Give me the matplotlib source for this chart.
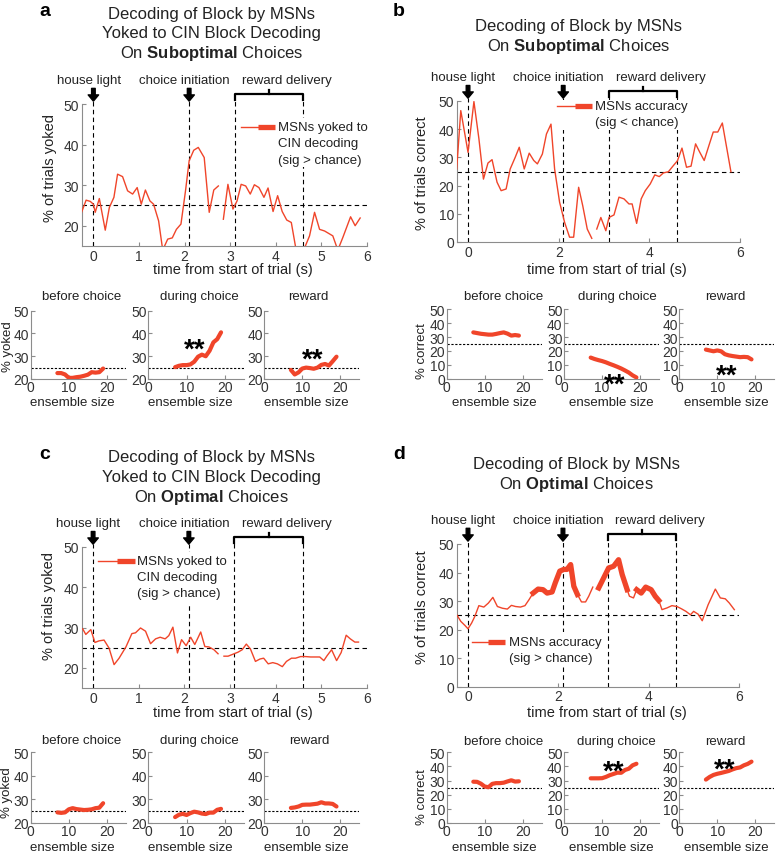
import numpy as np
import matplotlib
matplotlib.use('Agg')
import matplotlib.pyplot as plt
from matplotlib.transforms import blended_transform_factory
from matplotlib.lines import Line2D
from matplotlib.patches import Rectangle

plt.rcParams['font.family'] = ['Liberation Sans', 'DejaVu Sans']
plt.rcParams['mathtext.fontset'] = 'custom'
plt.rcParams['mathtext.rm'] = 'Liberation Sans'
plt.rcParams['mathtext.bf'] = 'Liberation Sans:bold'

nan = np.nan

# ---------------- main traces (time in s, % of trials) ----------------
t_a = [-0.26, -0.16, -0.07, 0.0, 0.04, 0.13, 0.26, 0.35, 0.45, 0.53, 0.64, 0.75, 0.86, 0.96, 1.05,
       1.14, 1.24, 1.32, 1.43, 1.52, 1.63, 1.73, 1.82, 1.92, 2.02, 2.1, 2.2, 2.3, 2.43, 2.54, 2.64,
       2.74, 2.8, 2.85, 2.95, 3.06, 3.15, 3.24, 3.34, 3.44, 3.53, 3.63, 3.74, 3.83, 3.94, 4.04, 4.14,
       4.24, 4.34, 4.43, 4.53, 4.63, 4.74, 4.85, 4.96, 5.07, 5.25, 5.36, 5.47, 5.64, 5.74, 5.85]
pct_a = [23.3, 26.3, 26.0, 25.3, 23.3, 26.7, 18.9, 24.5, 27.0, 32.7, 32.1, 28.6, 27.8, 29.4, 25.3,
         28.8, 26.1, 25.3, 21.2, 14.0, 16.7, 17.0, 19.1, 20.4, 28.6, 36.0, 38.6, 39.3, 36.8, 23.3, 28.8,
         29.8, nan, 21.6, 30.2, 24.1, 26.1, 30.2, 29.8, 27.8, 30.1, 29.4, 27.0, 29.3, 23.5, 27.4, 23.5,
         21.4, 20.8, 15.0, 12.0, 14.5, 17.5, 23.3, 19.1, 18.7, 17.5, 14.0, 17.1, 22.2, 20.0, 21.9]

t_b = [-0.25, -0.16, 0.0, 0.13, 0.24, 0.34, 0.44, 0.53, 0.64, 0.73, 0.84, 0.93, 1.04, 1.13, 1.24,
       1.35, 1.45, 1.53, 1.64, 1.73, 1.83, 1.91, 2.02, 2.13, 2.24, 2.33, 2.44, 2.53, 2.63, 2.73,
       2.78, 2.84, 2.93, 3.04, 3.11, 3.22, 3.33, 3.44, 3.55, 3.62, 3.72, 3.82, 3.91, 4.02, 4.12,
       4.22, 4.31, 4.42, 4.53, 4.62, 4.72, 4.82, 4.92, 5.02, 5.11, 5.21, 5.32, 5.41, 5.51, 5.61, 5.80]
pct_b = [25.9, 46.6, 31.8, 49.8, 36.6, 22.3, 28.0, 29.2, 21.2, 18.2, 18.8, 25.9, 30.0, 33.6, 25.9,
         31.5, 28.9, 27.7, 31.2, 38.3, 41.8, 25.9, 14.1, 7.0, 1.7, 1.7, 19.4, 12.9, 4.6, 1.3,
         nan, 4.6, 8.7, 4.0, 8.7, 9.6, 15.9, 15.3, 13.5, 13.5, 6.6, 15.3, 18.2, 20.6, 23.8,
         23.2, 24.5, 24.9, 27.1, 28.8, 33.3, 26.5, 26.9, 34.8, 31.9, 28.9, 34.5, 39.0, 39.0, 42.2, 24.9]

t_c = [-0.23, -0.16, -0.05, 0.04, 0.13, 0.24, 0.35, 0.46, 0.57, 0.72, 0.85, 0.93, 1.04, 1.15, 1.26,
       1.37, 1.47, 1.58, 1.66, 1.75, 1.85, 1.94, 2.04, 2.14, 2.23, 2.36, 2.45, 2.54, 2.65, 2.74,
       2.8, 2.87, 2.96, 3.07, 3.18, 3.27, 3.36, 3.45, 3.56, 3.66, 3.74, 3.84, 3.94, 4.04, 4.15,
       4.24, 4.35, 4.44, 4.55, 4.66, 4.77, 4.88, 4.97, 5.06, 5.13, 5.23, 5.34, 5.44, 5.55, 5.64, 5.74, 5.82]
pct_c = [29.7, 28.3, 29.5, 26.3, 26.7, 26.9, 24.9, 20.8, 22.4, 25.2, 28.5, 28.7, 29.9, 29.1, 26.0,
         27.2, 27.6, 27.2, 28.0, 30.1, 23.7, 27.0, 25.5, 27.6, 25.8, 28.9, 25.3, 25.2, 24.5, 23.5,
         nan, 22.9, 22.9, 23.4, 23.9, 24.5, 25.9, 24.7, 21.6, 22.2, 22.4, 21.0, 21.3, 21.0, 20.3,
         21.6, 22.4, 22.4, 22.8, 22.8, 22.7, 22.7, 22.7, 21.8, 23.0, 24.5, 21.8, 23.8, 28.1, 27.2, 26.4, 26.4]

t_d = [-0.24, -0.16, -0.07, 0.0, 0.08, 0.15, 0.24, 0.35, 0.45, 0.55, 0.65, 0.76, 0.87, 0.96, 1.05,
       1.16, 1.26, 1.35, 1.44, 1.55, 1.66, 1.75, 1.86, 1.93, 2.03, 2.12, 2.19, 2.27, 2.34, 2.42,
       2.51, 2.6, 2.67, 2.76, 2.82, 2.89, 3.0, 3.11, 3.22, 3.33, 3.41, 3.52, 3.57, 3.66, 3.73,
       3.83, 3.93, 4.05, 4.14, 4.22, 4.29, 4.4, 4.51, 4.62, 4.72, 4.82, 4.92, 4.99, 5.09, 5.18,
       5.31, 5.47, 5.58, 5.69, 5.78, 5.89]
pct_d = [25.0, 22.9, 21.5, 20.3, 22.3, 24.6, 28.4, 27.9, 29.3, 31.3, 28.1, 27.5, 27.2, 28.5, 28.1,
         27.9, 28.4, 30.5, 32.8, 34.2, 34.0, 32.8, 33.2, 36.4, 40.5, 41.1, 41.1, 42.8, 35.2, 32.3,
         29.7, 29.7, 31.7, 34.9, nan, 34.6, 38.1, 41.6, 42.2, 44.5, 39.3, 34.0, 31.7, 31.1, 34.0,
         32.8, 34.9, 34.0, 31.7, 30.2, 27.0, 27.6, 28.4, 28.1, 27.3, 26.4, 25.2, 26.4, 25.4, 23.1,
         28.7, 34.2, 31.1, 30.8, 29.3, 27.0]
# periods where decoding differs significantly from chance (thick line)
sig_d = [(1.40, 2.42), (2.89, 3.52), (3.73, 4.22)]

event_t = [0.0, 2.1, 3.1, 4.6]
event_names = ['house light', 'choice initiation', 'reward delivery']
chance = 25

# ---------------- ensemble-size panels ----------------
ens = list(range(7, 20))
a_before = [22.6, 22.6, 22.0, 20.5, 20.5, 20.8, 21.0, 21.4, 21.9, 23.0, 22.8, 23.0, 24.6]
a_during = [25.2, 25.8, 26.1, 26.1, 26.4, 27.6, 29.8, 30.7, 30.0, 32.4, 36.1, 37.5, 40.5]
a_reward = [24.0, 22.0, 22.9, 24.6, 25.0, 24.8, 24.5, 25.0, 26.2, 26.6, 25.9, 27.8, 29.8]
b_before = [33.3, 32.8, 32.3, 32.0, 31.7, 31.7, 32.2, 32.8, 33.3, 32.4, 31.0, 31.4, 31.0]
b_during = [15.3, 14.3, 13.5, 12.8, 11.9, 10.8, 9.8, 8.7, 7.5, 6.1, 4.6, 2.6, 1.1]
b_reward = [21.0, 20.4, 19.8, 20.4, 19.8, 17.7, 16.9, 16.4, 16.0, 15.6, 15.8, 15.6, 14.0]
c_before = [24.5, 24.3, 24.5, 25.8, 26.3, 25.9, 25.7, 25.5, 25.6, 25.8, 26.3, 26.5, 28.4]
c_during = [22.5, 23.5, 23.9, 23.4, 24.2, 24.8, 24.5, 24.0, 23.8, 24.4, 24.4, 25.6, 26.0]
c_reward = [26.4, 26.6, 27.0, 27.7, 27.8, 27.8, 28.0, 28.2, 28.8, 28.3, 28.3, 28.1, 27.0]
d_before = [29.2, 29.1, 27.8, 25.8, 25.3, 27.7, 28.2, 28.2, 28.5, 29.4, 30.2, 29.3, 29.5]
d_during = [31.6, 31.6, 31.6, 31.7, 32.6, 33.8, 34.7, 35.6, 35.5, 37.5, 38.4, 40.8, 41.9]
d_reward = [30.7, 32.6, 34.0, 34.8, 35.4, 36.1, 36.8, 37.9, 38.8, 39.3, 40.8, 41.8, 43.4]
small_titles = ['before choice', 'during choice', 'reward']
# '**' markers: (x, y) per small panel, None = not significant
stars_a = [None, (12.2, 36.8), (12.7, 32.4)]
stars_b = [None, (13.2, 2.4), (12.5, 8.8)]
stars_c = [None, None, None]
stars_d = [None, (13.0, 42.5), (12.0, 44.1)]

RED = '#f0452a'
GRAY = '#8c8c8c'
TXT = '#222222'
W, H = 776, 853
fig = plt.figure(figsize=(W / 100, H / 100), dpi=100)


def add_ax(box):
    l, t, r, b = box
    return fig.add_axes([l / W, 1 - b / H, (r - l) / W, (b - t) / H])


def ftext(x, y, s, **kw):
    kw.setdefault('ha', 'center')
    kw.setdefault('va', 'center')
    kw.setdefault('color', TXT)
    fig.text(x / W, 1 - y / H, s, **kw)


def style(ax, pad=2):
    for side in ['top', 'right']:
        ax.spines[side].set_visible(False)
    for side in ['left', 'bottom']:
        ax.spines[side].set_color(GRAY)
        ax.spines[side].set_linewidth(0.8)
    ax.tick_params(direction='in', length=3, width=0.8, color=GRAY, labelsize=10,
                   labelcolor='#333333', pad=pad)


def place_labels(ax, box, xlab, xpos, ylab, ypos, fs):
    l, t, r, b = box
    if xlab:
        ax.set_xlabel(xlab, fontsize=fs, color=TXT, va='center')
        ax.xaxis.set_label_coords((xpos[0] - l) / (r - l), (b - xpos[1]) / (b - t))
    if ylab:
        ax.set_ylabel(ylab, fontsize=fs, color=TXT, va='center')
        ax.yaxis.set_label_coords((ypos[0] - l) / (r - l), (b - ypos[1]) / (b - t))


def legend_box(bg, thin, thick, yrow, xtext, rows, lines):
    l, t, r, b = bg
    fig.patches.append(Rectangle((l / W, 1 - b / H), (r - l) / W, (b - t) / H,
                                 transform=fig.transFigure, fc='white', ec='none', zorder=5))
    fig.lines.append(Line2D([thin[0] / W, thin[1] / W], [1 - yrow / H] * 2, color=RED, lw=1.0,
                            transform=fig.transFigure, zorder=6))
    fig.lines.append(Line2D([thick[0] / W, thick[1] / W], [1 - yrow / H] * 2, color=RED, lw=3.8,
                            solid_capstyle='butt', transform=fig.transFigure, zorder=6))
    for yy, s in zip(rows, lines):
        ftext(xtext, yy, s, ha='left', fontsize=9.5, zorder=6)


def main_panel(box, t, y, ylim, yticks, xticks, ylab, ypos, xpos, sig=None):
    ax = add_ax(box)
    style(ax)
    ax.plot(t, y, color=RED, lw=1.0, zorder=3)
    if sig:
        tt = np.array(t)
        mask = np.zeros(len(tt), bool)
        for s0, s1 in sig:
            mask |= (tt >= s0) & (tt <= s1)
        ax.plot(tt, np.where(mask, np.array(y), nan), color=RED, lw=3.8, zorder=3)
    ax.set_xlim(-0.25, 6)
    ax.set_ylim(*ylim)
    ax.set_xticks(xticks)
    ax.set_yticks(yticks)
    ax.axhline(chance, color='k', lw=0.8, ls=(0, (4, 3)), zorder=2)
    tr = blended_transform_factory(ax.transData, ax.transAxes)
    for x in event_t[:2]:
        ax.axvline(x, 0, 1.02, color='k', lw=0.8, ls=(0, (4, 3)), clip_on=False, zorder=2)
        ax.annotate('', xy=(x, 1.02), xycoords=tr, xytext=(x, 1.11), textcoords=tr,
                    arrowprops=dict(facecolor='black', edgecolor='black', width=2.6,
                                    headwidth=7.5, headlength=4.5, shrink=0),
                    annotation_clip=False)
    for x in event_t[2:]:
        ax.axvline(x, 0, 1.03, color='k', lw=0.8, ls=(0, (4, 3)), clip_on=False, zorder=2)
    mid = (event_t[2] + event_t[3]) / 2
    ax.plot([event_t[2], event_t[2], event_t[3], event_t[3]], [1.03, 1.07, 1.07, 1.03],
            transform=tr, clip_on=False, color='k', lw=1.6, solid_joinstyle='round')
    ax.plot([mid, mid], [1.07, 1.10], transform=tr, clip_on=False, color='k', lw=1.6)
    for x, s in zip([-0.1, 2.0, 4.25], event_names):
        ax.text(x, 1.17, s, transform=tr, ha='center', va='center', fontsize=9.5, color=TXT)
    place_labels(ax, box, 'time from start of trial (s)', xpos, ylab, ypos, 10.5)
    return ax


def small_row(boxes, series, stars, ylim, yticks, ylab, ypos, xfrac, xlab_y, title_x, title_y):
    for i, (box, vals, st) in enumerate(zip(boxes, series, stars)):
        ax = add_ax(box)
        style(ax, pad=1)
        ax.plot(ens, vals, color=RED, lw=3, solid_capstyle='round', zorder=3)
        ax.axhline(chance, color='k', lw=0.8, ls=(0, (2, 1.5)), zorder=2)
        ax.set_xlim(0, 25)
        ax.set_ylim(*ylim)
        ax.set_xticks([0, 10, 20])
        ax.set_yticks(yticks)
        l, t, r, b = box
        place_labels(ax, box, 'ensemble size', (l + xfrac * (r - l), xlab_y),
                     ylab if i == 0 else None, ypos, 9.5)
        if st:
            ax.annotate('**', xy=st, xytext=(0, -11.3), textcoords='offset points',
                        ha='center', va='baseline', fontsize=20, fontweight='bold', color='k')
        ftext(title_x[i], title_y, small_titles[i], fontsize=9.5)


# ---------------- panel a ----------------
ftext(45, 12, 'a', fontsize=14, fontweight='bold', color='k')
for yy, s in zip([14.3, 33.7, 53.3], ['Decoding of Block by MSNs', 'Yoked to CIN Block Decoding',
                                      r'On $\mathbf{Suboptimal}$ Choices']):
    ftext(211.7, yy, s, fontsize=12)
main_panel((82, 105, 367, 247), t_a, pct_a, (15, 50), [20, 30, 40, 50], range(0, 7),
           '% of trials yoked', (50, 168), (233, 270))
legend_box((237, 119, 366, 168), (240.7, 258), (258, 275), 127.7, 278,
           [127.7, 144.3, 160.9], ['MSNs yoked to', 'CIN decoding', '(sig > chance)'])
small_row([(30.7, 311.7, 126, 380), (148.3, 311.7, 244, 380), (264.3, 311.7, 359.3, 380)],
          [a_before, a_during, a_reward], stars_a, (20, 50), [20, 30, 40, 50],
          '% yoked', (8, 346.7), 0.44, 403, [81.7, 199, 308.3], 296.7)

# ---------------- panel b ----------------
ftext(399, 11, 'b', fontsize=14, fontweight='bold', color='k')
for yy, s in zip([27, 47], ['Decoding of Block by MSNs', r'On $\mathbf{Suboptimal}$ Choices']):
    ftext(578.3, yy, s, fontsize=12)
main_panel((456.7, 102, 740, 243), t_b, pct_b, (0, 50), range(0, 51, 10), [0, 2, 4, 6],
           '% of trials correct', (421.7, 173), (607, 270))
legend_box((554, 101, 682, 131), (556.7, 575), (575, 591.7), 106.7, 595,
           [106.7, 123.3], ['MSNs accuracy', '(sig < chance)'])
small_row([(446.7, 310, 541.7, 380), (564, 310, 659.3, 380), (679.3, 310, 774.3, 380)],
          [b_before, b_during, b_reward], stars_b, (0, 50), range(0, 51, 10),
          '% correct', (421.7, 350.7), 0.5, 403.3, [503.5, 617, 725.5], 297)

# ---------------- panel c ----------------
ftext(45, 455, 'c', fontsize=14, fontweight='bold', color='k')
for yy, s in zip([457.7, 477.7, 497.7], ['Decoding of Block by MSNs', 'Yoked to CIN Block Decoding',
                                         r'On $\mathbf{Optimal}$ Choices']):
    ftext(211.7, yy, s, fontsize=12)
main_panel((81.7, 548, 366.7, 689), t_c, pct_c, (15, 50), [20, 30, 40, 50], range(0, 7),
           '% of trials yoked', (49.3, 606), (233, 713.3))
legend_box((95, 553, 226, 605), (98, 117), (117, 135), 562.3, 137.3,
           [562.3, 578.3, 594.5], ['MSNs yoked to', 'CIN decoding', '(sig > chance)'])
small_row([(30.7, 753.3, 126, 824), (148.3, 753.3, 244, 824), (264.3, 753.3, 359.3, 824)],
          [c_before, c_during, c_reward], stars_c, (20, 50), [20, 30, 40, 50],
          '% yoked', (6.7, 793), 0.44, 848.3, [82, 199.5, 309], 740.7)

# ---------------- panel d ----------------
ftext(399, 455, 'd', fontsize=14, fontweight='bold', color='k')
for yy, s in zip([465, 485], ['Decoding of Block by MSNs', r'On $\mathbf{Optimal}$ Choices']):
    ftext(576.7, yy, s, fontsize=12)
main_panel((456.7, 545, 739.3, 687.7), t_d, pct_d, (0, 50), range(0, 51, 10), [0, 2, 4, 6],
           '% of trials correct', (421.7, 607), (607, 713.3), sig=sig_d)
legend_box((470, 633, 606, 668), (471.7, 488.3), (488.3, 505), 642.7, 509,
           [642.7, 659.3], ['MSNs accuracy', '(sig > chance)'])
small_row([(446.7, 753.3, 541.7, 824), (564, 753.3, 659.3, 824), (679.3, 753.3, 774.3, 824)],
          [d_before, d_during, d_reward], stars_d, (0, 50), range(0, 51, 10),
          '% correct', (421.7, 797), 0.5, 847.7, [503.7, 616.5, 725.5], 741.7)

fig.savefig('out.png', dpi=100)
